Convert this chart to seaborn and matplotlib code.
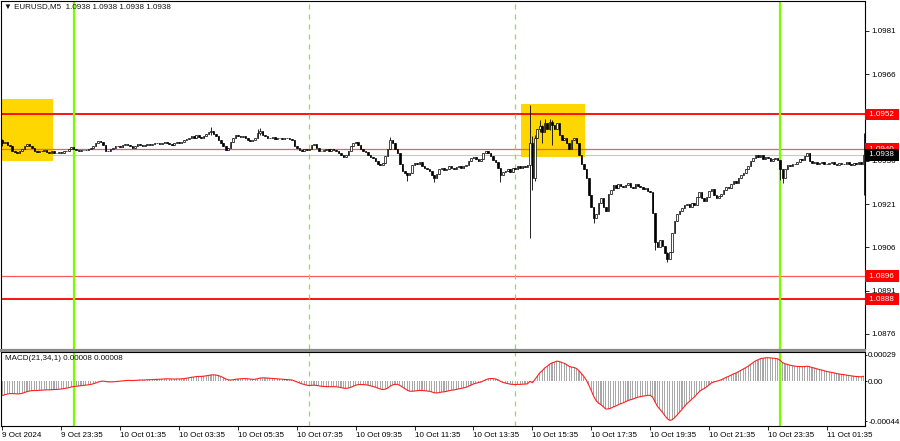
import numpy as np
import matplotlib
matplotlib.use("Agg")
import matplotlib.pyplot as plt
import matplotlib.transforms as mtrans
from matplotlib.patches import Rectangle
import seaborn as sns

# ---------------- data ----------------
SYMBOL_TITLE = "\u25bc EURUSD,M5  1.0938 1.0938 1.0938 1.0938"
MACD_TITLE = "MACD(21,34,1) 0.00008 0.00008"

# 5-minute closes in points (1e-5), 9 Oct 21:35 .. 11 Oct 02:50
CLOSE_PTS = [
    109420, 109425, 109415, 109410, 109395, 109390, 109385, 109392, 109400, 109412, 109418, 109410,
    109405, 109395, 109390, 109395, 109392, 109398, 109390, 109385, 109392, 109388, 109385, 109390,
    109388, 109395, 109392, 109400, 109408, 109402, 109398, 109395, 109397, 109396, 109398, 109402,
    109405, 109412, 109420, 109428, 109425, 109415, 109395, 109392, 109400, 109405, 109410, 109412,
    109408, 109414, 109418, 109415, 109410, 109405, 109412, 109418, 109416, 109410, 109414, 109419,
    109415, 109418, 109420, 109422, 109418, 109420, 109425, 109422, 109418, 109415, 109420, 109424,
    109420, 109426, 109430, 109436, 109440, 109445, 109440, 109448, 109442, 109438, 109445, 109452,
    109458, 109462, 109452, 109445, 109432, 109420, 109410, 109398, 109405, 109425, 109440, 109448,
    109445, 109442, 109446, 109440, 109432, 109428, 109430, 109440, 109455, 109462, 109450, 109445,
    109440, 109438, 109442, 109436, 109440, 109438, 109435, 109440, 109438, 109436, 109432, 109410,
    109405, 109398, 109395, 109400, 109396, 109402, 109415, 109418, 109405, 109395, 109392, 109398,
    109400, 109395, 109402, 109398, 109395, 109385, 109378, 109372, 109380, 109392, 109410, 109420,
    109425, 109415, 109400, 109395, 109390, 109380, 109372, 109368, 109360, 109350, 109345, 109352,
    109375, 109400, 109430, 109420, 109400, 109385, 109350, 109325, 109318, 109310, 109318, 109345,
    109352, 109348, 109355, 109340, 109335, 109330, 109325, 109310, 109300, 109315, 109330, 109335,
    109328, 109332, 109340, 109336, 109330, 109338, 109342, 109335, 109340, 109345, 109360, 109368,
    109372, 109365, 109360, 109365, 109385, 109392, 109388, 109375, 109362, 109355, 109335, 109310,
    109320, 109325, 109330, 109320, 109335, 109332, 109340, 109335, 109342, 109338, 109345, 109420,
    109300, 109440, 109470, 109480, 109460, 109490, 109470, 109495, 109485, 109470, 109490, 109450,
    109430, 109440, 109420, 109400, 109430, 109440, 109420, 109380, 109350, 109330, 109300, 109240,
    109200, 109160, 109175, 109215, 109230, 109200, 109185, 109245, 109260, 109275, 109265, 109280,
    109272, 109268, 109275, 109282, 109270, 109265, 109278, 109272, 109268, 109262, 109265, 109255,
    109250, 109180, 109080, 109060, 109085, 109065, 109040, 109020, 109045, 109110, 109150, 109175,
    109185, 109195, 109205, 109210, 109200, 109212, 109208, 109235, 109250, 109230, 109222, 109235,
    109255, 109262, 109240, 109232, 109238, 109245, 109260, 109270, 109265, 109280, 109288, 109282,
    109300, 109310, 109318, 109330, 109340, 109360, 109370, 109378, 109372, 109380, 109365, 109372,
    109368, 109360, 109365, 109370, 109362, 109330, 109300, 109330, 109345, 109340, 109348, 109350,
    109355, 109365, 109362, 109375, 109385, 109360, 109352, 109355, 109350, 109352, 109355, 109350,
    109348, 109352, 109355, 109350, 109345, 109352, 109348, 109350, 109355, 109348, 109345, 109352,
    109350, 109355, 109350, 109380,
]
FIRST_OPEN_PTS = 109430

# notable wick extremes (bar index: (high, low)) in points
WICKS = {
    0: (109435, 109410), 85: (109475, 109450), 104: (109470, 109440), 105: (109473, 109450),
    158: (109442, 109400), 165: (109310, 109290), 176: (109300, 109286), 203: (109335, 109286),
    215: (109553, 109092), 216: (109445, 109258), 217: (109450, 109290),
    219: (109500, 109460), 220: (109485, 109420), 221: (109505, 109460), 223: (109505, 109465),
    224: (109500, 109415), 241: (109200, 109144), 266: (109180, 109050), 271: (109045, 109009),
    317: (109362, 109293), 318: (109330, 109283), 351: (109456, 109241),
}

MACD_START = -0.00017   # MACD value at the left edge

TIME_LABELS = ["9 Oct 2024", "9 Oct 23:35", "10 Oct 01:35", "10 Oct 03:35", "10 Oct 05:35",
               "10 Oct 07:35", "10 Oct 09:35", "10 Oct 11:35", "10 Oct 13:35", "10 Oct 15:35",
               "10 Oct 17:35", "10 Oct 19:35", "10 Oct 21:35", "10 Oct 23:35", "11 Oct 01:35"]
TIME_LABEL_BARS = [0, 24, 48, 72, 96, 120, 144, 168, 192, 216, 240, 264, 288, 312, 336]

PRICE_TICKS = [1.0981, 1.0966, 1.0936, 1.0921, 1.0906, 1.0891, 1.0876]
LEVELS_STRONG = [1.0952, 1.0888]
LEVELS_WEAK = [1.0940, 1.0896]
LAST_PRICE = 1.0938

DAY_LINES = [29, 317]          # midnight bars
SESSION_LINES = [125, 209]     # dashed markers
ZONES = [(0, 21, 1.09359, 1.09574), (212, 238, 1.09373, 1.09556)]

MACD_TICKS = [0.00029, 0.0, -0.00044]
MACD_TICK_LABELS = ["0.00029", "0.00", "-0.00044"]

# ---------------- derived series ----------------
close = np.array(CLOSE_PTS, dtype=float) / 1e5
open_ = np.r_[FIRST_OPEN_PTS / 1e5, close[:-1]]
high = np.maximum(open_, close)
low = np.minimum(open_, close)
for k, (h, l) in WICKS.items():
    high[k] = max(high[k], h / 1e5)
    low[k] = min(low[k], l / 1e5)
n = len(close)
idx = np.arange(n)

# MACD(21,34): EMA21 - EMA34 of close, signal period 1
a_f, a_s = 2 / 22, 2 / 35
ef, es = close[0], close[0] - MACD_START
macd = []
for c in close:
    ef += a_f * (c - ef)
    es += a_s * (c - es)
    macd.append(ef - es)
macd = np.array(macd)

# ---------------- figure ----------------
sns.set_theme(style="white")
plt.rcParams["font.family"] = ["Liberation Sans", "DejaVu Sans"]
W, H = 900, 441
fig = plt.figure(figsize=(W / 100, H / 100), dpi=100)
fig.patch.set_facecolor("white")

def frac(x0, y0, x1, y1):
    return [x0 / W, 1 - y1 / H, (x1 - x0) / W, (y1 - y0) / H]

ax = fig.add_axes(frac(1, 0.5, 865, 348.5))
ax2 = fig.add_axes(frac(1, 352, 865, 426), sharex=ax)

XMIN, XMAX = -0.6, n - 0.4
ax.set_xlim(XMIN, XMAX)
ax.set_ylim(1.087098, 1.099145)
ax2.set_ylim(-0.000495, 0.00032)

for a in (ax, ax2):
    a.set_facecolor("white")
    for s in a.spines.values():
        s.set_color("black")
        s.set_linewidth(0.8)

# zones
for b0, b1, p0, p1 in ZONES:
    ax.add_patch(Rectangle((b0 - 0.5, p0), b1 - b0, p1 - p0, facecolor="#FFD700",
                           edgecolor="none", zorder=1))

# level lines
for p in LEVELS_STRONG:
    ax.axhline(p, color="#FF0000", lw=1.3, zorder=2)
for p in LEVELS_WEAK:
    ax.axhline(p, color="#FF5A5A", lw=0.9, zorder=2)
ax.axhline(LAST_PRICE, color="#C8C8C8", lw=0.8, zorder=1.5)

# vertical markers on both panes
for a in (ax, ax2):
    for b in DAY_LINES:
        a.axvline(b, color="#7CFC00", lw=1.6, zorder=2.5)
    for b in SESSION_LINES:
        a.axvline(b, color="#8FE33A", lw=0.9, ls=(0, (4, 4)), zorder=2.5)

# candles
ax.vlines(idx, low, high, color="black", lw=0.6, zorder=3)
up = close >= open_
ax.bar(idx[up], (close - open_)[up], bottom=open_[up], width=0.65, color="white",
       edgecolor="black", linewidth=0.5, zorder=4)
ax.bar(idx[~up], (close - open_)[~up], bottom=open_[~up], width=0.65, color="black",
       edgecolor="black", linewidth=0.5, zorder=4)

# price axis
ax.yaxis.tick_right()
ax.set_yticks(PRICE_TICKS)
ax.set_yticklabels([f"{p:.4f}" for p in PRICE_TICKS])
ax.tick_params(axis="y", direction="out", length=3, width=0.6, labelsize=5.8, pad=1.5,
               colors="black", right=True, left=False)
ax.tick_params(axis="x", bottom=False, labelbottom=False)
ax.set_xlabel("")
ax.set_ylabel("")

blend = mtrans.blended_transform_factory(ax.transAxes, ax.transData)
for p in LEVELS_STRONG + LEVELS_WEAK:
    ax.text(1.0025, p, f" {p:.4f} ", transform=blend, fontsize=5.8, color="white",
            va="center", ha="left", zorder=6, clip_on=False,
            bbox=dict(boxstyle="square,pad=0.3", fc="#FF0000", ec="none"))
ax.text(1.0025, LAST_PRICE, f" {LAST_PRICE:.4f} ", transform=blend, fontsize=5.8,
        color="white", va="center", ha="left", zorder=6, clip_on=False,
        bbox=dict(boxstyle="square,pad=0.3", fc="black", ec="none"))

# MACD pane
ax2.bar(idx, macd, width=0.45, color="#A8A8A8", linewidth=0, zorder=2)
sns.lineplot(x=idx, y=macd, ax=ax2, color="#FF2020", lw=0.8, zorder=3)
ax2.yaxis.tick_right()
ax2.set_yticks(MACD_TICKS)
ax2.set_yticklabels(MACD_TICK_LABELS)
ax2.tick_params(axis="y", direction="out", length=1.5, width=0.6, labelsize=5.8, pad=0.8,
                right=True, left=False, colors="black")
ax2.set_xticks(TIME_LABEL_BARS)
ax2.set_xticklabels(TIME_LABELS)
ax2.tick_params(axis="x", direction="out", length=3, width=0.6, labelsize=5.8, pad=1.5,
                bottom=True, colors="black")
for t in ax2.get_xticklabels():
    t.set_ha("left")
ax2.set_xlim(XMIN, XMAX)
ax2.set_xlabel("")
ax2.set_ylabel("")
ax2.text(4 / 864, 1 - 6 / 74, MACD_TITLE, transform=ax2.transAxes, fontsize=5.8,
         va="center", ha="left", color="#111111", zorder=6)

# pane separator
fig.add_artist(Rectangle((0, 1 - 351.5 / H), 866 / W, 3 / H, transform=fig.transFigure,
                         facecolor="#8C8C8C", edgecolor="none", zorder=10))

fig.text(4 / W, 1 - 7 / H, SYMBOL_TITLE, fontsize=5.8, va="center", ha="left",
         color="#111111")

fig.savefig("out.png", dpi=100, facecolor="white")
